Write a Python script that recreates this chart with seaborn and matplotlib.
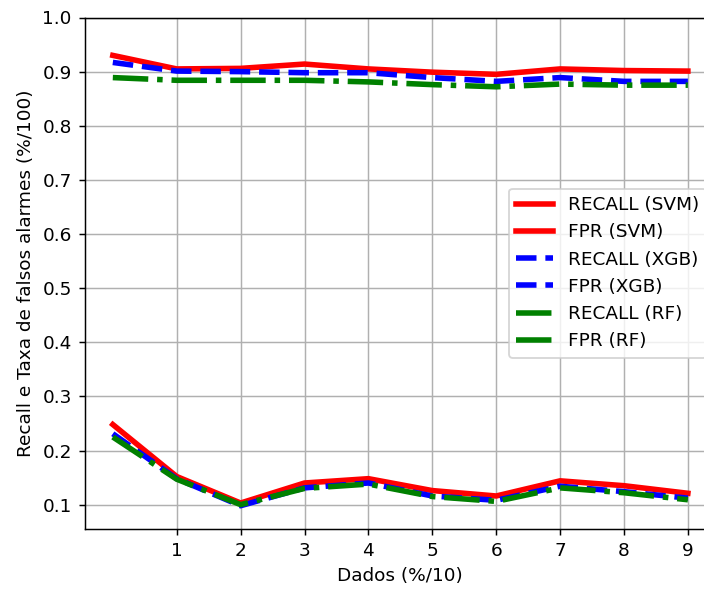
import numpy as np
import pandas as pd
import matplotlib
matplotlib.use("Agg")
import matplotlib.pyplot as plt
import seaborn as sns

dados = [0, 1, 2, 3, 4, 5, 6, 7, 8, 9]
xticks = [1, 2, 3, 4, 5, 6, 7, 8, 9]

recall_svm = [0.930, 0.905, 0.906, 0.914, 0.905, 0.899, 0.895, 0.905, 0.902, 0.901]
fpr_svm = [0.248, 0.152, 0.103, 0.140, 0.148, 0.126, 0.116, 0.144, 0.135, 0.121]
recall_xgb = [0.917, 0.901, 0.900, 0.898, 0.898, 0.889, 0.882, 0.889, 0.882, 0.882]
fpr_xgb = [0.231, 0.148, 0.098, 0.131, 0.140, 0.116, 0.108, 0.134, 0.124, 0.112]
recall_rf = [0.889, 0.884, 0.884, 0.884, 0.881, 0.876, 0.872, 0.877, 0.875, 0.875]
fpr_rf = [0.225, 0.147, 0.100, 0.130, 0.138, 0.115, 0.106, 0.131, 0.122, 0.109]

series = [
    ("RECALL (SVM)", recall_svm, "red", "-"),
    ("FPR (SVM)", fpr_svm, "red", "-"),
    ("RECALL (XGB)", recall_xgb, "blue", "--"),
    ("FPR (XGB)", fpr_xgb, "blue", "--"),
    ("RECALL (RF)", recall_rf, "green", "-."),
    ("FPR (RF)", fpr_rf, "green", "-."),
]

plt.rcParams["font.family"] = ["DejaVu Sans"]
plt.rcParams["font.size"] = 10

dpi = 133
fig = plt.figure(figsize=(704 / dpi, 590 / dpi), dpi=dpi)
W, H = 704, 590
left, right, top, bottom = 84.7, 716.0, 17.5, 529.0
ax = fig.add_axes([left / W, (H - bottom) / H, (right - left) / W, (bottom - top) / H])

for name, vals, col, ls in series:
    df = pd.DataFrame({"x": dados, "y": vals})
    sns.lineplot(data=df, x="x", y="y", ax=ax, color=col, linestyle=ls,
                 linewidth=3, label=name)

ax.set_xlim(-0.44, 9.44)
ax.set_ylim(0.055, 1.0)
ax.set_xticks(xticks)
ax.set_yticks([0.1, 0.2, 0.3, 0.4, 0.5, 0.6, 0.7, 0.8, 0.9, 1.0])
ax.grid(True)
ax.set_xlabel("Dados (%/10)")
ax.set_ylabel("Recall e Taxa de falsos alarmes (%/100)")
ax.legend(loc="center right")

fig.savefig("out.png", dpi=dpi)
